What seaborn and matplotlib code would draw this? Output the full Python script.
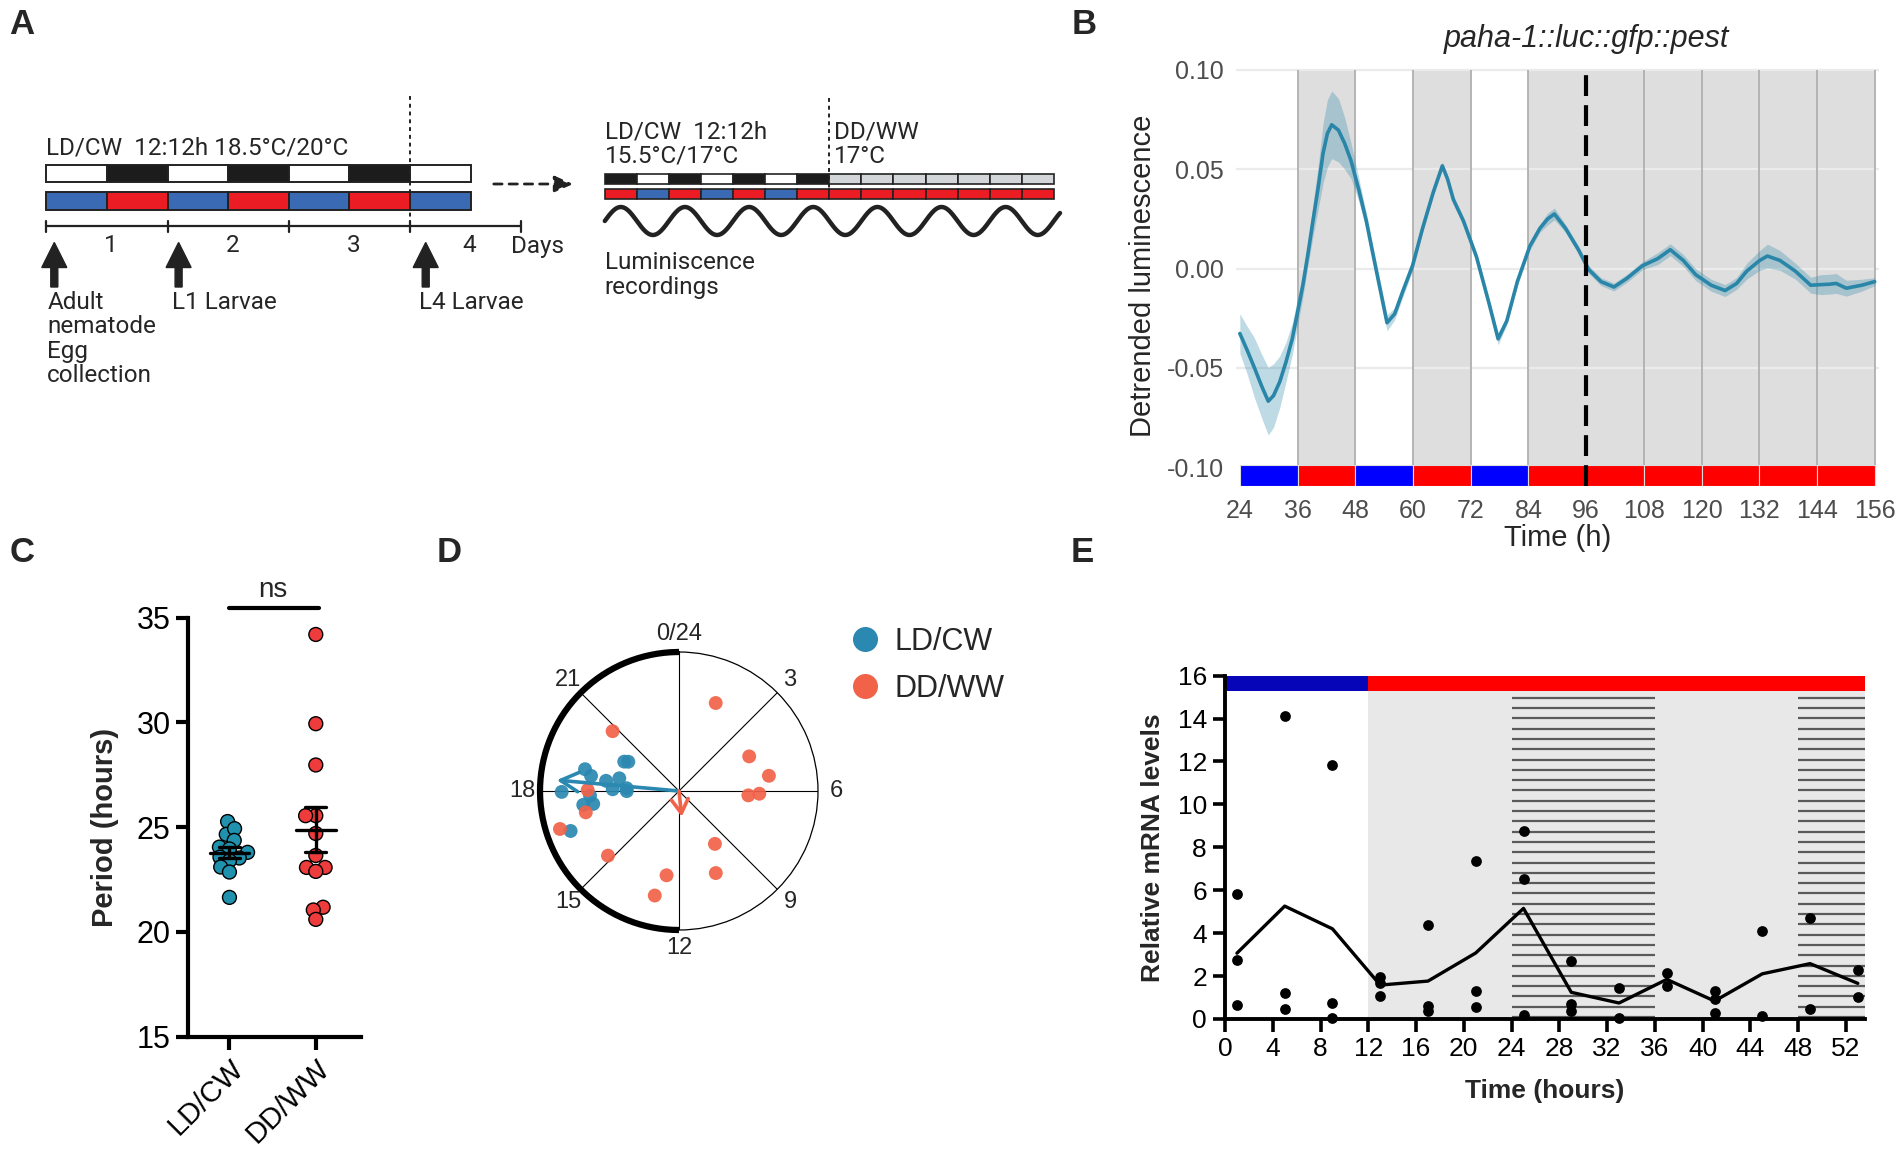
import numpy as np
import pandas as pd
import matplotlib
matplotlib.use("Agg")
import matplotlib.pyplot as plt
import seaborn as sns
from matplotlib.patches import Rectangle
from matplotlib.lines import Line2D

# ------------------------------------------------------------------ data
# Panel A (schematic), one entry per 12 h block
a_train_light = ['L', 'D', 'L', 'D', 'L', 'D', 'L']
a_train_temp = ['C', 'W', 'C', 'W', 'C', 'W', 'C']
a_days = ['1', '2', '3', '4']
a_events = ['Adult\nnematode\nEgg\ncollection', 'L1 Larvae', 'L4 Larvae']
a_rec_light = ['D', 'L', 'D', 'L', 'D', 'L', 'D', 'DD', 'DD', 'DD', 'DD', 'DD', 'DD', 'DD']
a_rec_temp = ['W', 'C', 'W', 'C', 'W', 'C', 'W', 'W', 'W', 'W', 'W', 'W', 'W', 'W']

# Panel B
b_time = [24, 25.5, 27, 28.5, 29.9, 31, 32.3, 33.6, 34.9, 36, 37.1, 38.2, 39.2, 40.3, 41.3, 42.2,
          43.1, 44.5, 45.8, 47.1, 48.7, 50.3, 51.7, 53.0, 54.6, 56.2, 57.8, 59.9, 62.0, 64.2, 66.1,
          67.2, 68.4, 70.5, 73.2, 75.8, 77.7, 79.5, 81.7, 84.3, 86.4, 88.0, 89.4, 91.7, 94.4, 96.5,
          99.1, 101.8, 104.5, 107.7, 110.9, 113.5, 116.2, 118.8, 122.0, 124.9, 127.3, 129.4, 132.1,
          133.7, 136.3, 139.5, 142.7, 144.8, 146.5, 148.0, 150.1, 153.3, 156]
b_mean = [-0.0327, -0.041, -0.0498, -0.059, -0.0668, -0.064, -0.057, -0.047, -0.0354, -0.022,
          -0.0084, 0.008, 0.024, 0.041, 0.058, 0.068, 0.0724, 0.0697, 0.063, 0.0544, 0.040, 0.0239,
          0.007, -0.0084, -0.0273, -0.0228, -0.012, 0.0014, 0.0203, 0.0383, 0.0517, 0.045, 0.0347,
          0.0239, 0.0059, -0.0174, -0.0354, -0.0264, -0.0066, 0.0113, 0.0203, 0.025, 0.0275, 0.0203,
          0.0095, -0.0004, -0.0066, -0.0093, -0.0049, 0.0014, 0.005, 0.0095, 0.0041, -0.0031,
          -0.0084, -0.0111, -0.0075, -0.0013, 0.0041, 0.0063, 0.0041, -0.0013, -0.0084, -0.0081,
          -0.0079, -0.0075, -0.0099, -0.0084, -0.0066]
b_sem = [0.010, 0.012, 0.015, 0.016, 0.017, 0.016, 0.013, 0.010, 0.008, 0.007, 0.006, 0.006,
         0.008, 0.011, 0.015, 0.017, 0.017, 0.016, 0.013, 0.009, 0.006, 0.004, 0.004, 0.004,
         0.004, 0.003, 0.003, 0.0025, 0.002, 0.002, 0.002, 0.002, 0.002, 0.002, 0.002, 0.002,
         0.003, 0.002, 0.002, 0.002, 0.002, 0.003, 0.003, 0.002, 0.002, 0.002, 0.002, 0.002,
         0.002, 0.002, 0.003, 0.003, 0.003, 0.003, 0.003, 0.003, 0.003, 0.004, 0.005, 0.006,
         0.005, 0.004, 0.004, 0.005, 0.005, 0.005, 0.004, 0.003, 0.002]
b_block_start = [24, 36, 48, 60, 72, 84, 96, 108, 120, 132, 144]
b_block_phase = ['L', 'D', 'L', 'D', 'L', 'D', 'D', 'D', 'D', 'D', 'D']
b_release = 96
b_xticks = [24, 36, 48, 60, 72, 84, 96, 108, 120, 132, 144, 156]
b_yticks = [-0.10, -0.05, 0.00, 0.05, 0.10]
b_ytick_labels = ['-0.10', '-0.05', '0.00', '0.05', '0.10']

# Panel C
c_groups = ['LD/CW', 'DD/WW']
c_ld = [25.27, 24.66, 24.93, 24.37, 24.05, 23.96, 23.8, 23.57, 23.53, 23.4, 23.1, 22.86, 21.65]
c_dd = [34.2, 29.94, 27.97, 25.55, 25.55, 24.7, 23.65, 23.08, 23.08, 22.89, 21.18, 21.05, 20.6]
c_yticks = [15, 20, 25, 30, 35]

# Panel D (phase in hours, radius as fraction)
d_ld_phase = [19.88, 20.0, 18.87, 18.65, 18.53, 18.8, 18.1, 18.2, 17.99, 17.97, 17.8, 17.45, 17.43, 16.65]
d_ld_r = [0.447, 0.421, 0.694, 0.642, 0.530, 0.439, 0.477, 0.377, 0.376, 0.844, 0.641, 0.696, 0.624, 0.831]
d_dd_phase = [1.51, 20.8, 4.25, 5.36, 6.13, 6.24, 18.04, 17.14, 16.82, 15.18, 9.72, 10.39, 12.56, 12.87]
d_dd_r = [0.686, 0.643, 0.563, 0.656, 0.578, 0.5, 0.657, 0.688, 0.899, 0.691, 0.46, 0.647, 0.613, 0.772]
d_mean_phase = [18.34, 11.6]
d_mean_len = [0.883, 0.186]
d_hour_ticks = [0, 3, 6, 9, 12, 15, 18, 21]
d_hour_labels = ['0/24', '3', '6', '9', '12', '15', '18', '21']

# Panel E
e_time = [1, 1, 1, 5, 5, 5, 9, 9, 9, 13, 13, 13, 17, 17, 17, 21, 21, 21, 25, 25, 25, 29, 29, 29,
          33, 33, 37, 37, 41, 41, 41, 45, 45, 49, 49, 53, 53]
e_level = [5.84, 2.73, 0.63, 14.1, 1.2, 0.48, 11.82, 0.74, 0.04, 1.98, 1.06, 1.7, 4.36, 0.59, 0.35,
           7.37, 1.3, 0.56, 8.76, 6.53, 0.17, 2.69, 0.69, 0.35, 1.43, 0.06, 2.13, 1.56, 1.3, 0.95,
           0.26, 4.08, 0.13, 4.71, 0.45, 2.3, 1.02]
e_light_end = 12
e_hatch_blocks = [(24, 36), (48, 53.6)]
e_xticks = [0, 4, 8, 12, 16, 20, 24, 28, 32, 36, 40, 44, 48, 52]
e_yticks = [0, 2, 4, 6, 8, 10, 12, 14, 16]

# ------------------------------------------------------------------ style
sns.set_theme(style="white")
ROBOTO = ['Roboto', 'DejaVu Sans']
ARIAL = ['Liberation Sans', 'DejaVu Sans']
NARROW = ['Liberation Sans Narrow', 'Liberation Sans', 'DejaVu Sans']
plt.rcParams['font.family'] = ARIAL

W, H = 1902, 1156
fig = plt.figure(figsize=(W / 100, H / 100), dpi=100)
fig.patch.set_facecolor('white')

LIGHT = {'L': 'white', 'D': '#1c1c1c', 'DD': '#d3d6d9'}
TEMP = {'C': '#3a6ab3', 'W': '#ec1c24'}

# pixel overlay for schematic + panel letters
ov = fig.add_axes([0, 0, 1, 1], zorder=-5)
ov.set_xlim(0, W)
ov.set_ylim(H, 0)
ov.axis('off')

for lab, (x, y) in zip('ABCDE', [(22, 25), (1084, 25), (22, 552), (449, 552), (1082, 552)]):
    ov.text(x, y, lab, fontsize=25, fontweight='bold', ha='center', va='center', family=ARIAL)

# ---------------- Panel A
x0a, x1a = 46.4, 470.7
segw = (x1a - x0a) / len(a_train_light)
ov.text(x0a, 148, 'LD/CW  12:12h 18.5°C/20°C', fontsize=17.5, family=ROBOTO, ha='left', va='center')
for i, (l, t) in enumerate(zip(a_train_light, a_train_temp)):
    xs = x0a + i * segw
    ov.add_patch(Rectangle((xs, 164.5), segw, 17, fc=LIGHT[l], ec='#222222', lw=1.4))
    ov.add_patch(Rectangle((xs, 192), segw, 17.5, fc=TEMP[t], ec='#222222', lw=1.4))
tl_end = 520.7
ov.plot([x0a, tl_end], [226, 226], color='#222222', lw=1.6)
day_ticks = [x0a + k * 2 * segw for k in range(len(a_days))] + [tl_end]
for xt in day_ticks:
    ov.plot([xt, xt], [220.5, 231.7], color='#222222', lw=1.6)
for k, d in enumerate(a_days):
    ov.text((day_ticks[k] + day_ticks[k + 1]) / 2 + 4, 246, d, fontsize=17.5, family=ROBOTO,
            ha='center', va='center')
ov.text(511.4, 246, 'Days', fontsize=17.5, family=ROBOTO, ha='left', va='center')
ov.plot([x0a + 6 * segw, x0a + 6 * segw], [96, 226], color='#222222', lw=1.4, ls=(0, (2, 2)))
event_x = [54.3, 178.6, 425.7]
for ex, ev in zip(event_x, a_events):
    ov.arrow(ex, 287, 0, -44.5, width=7, head_width=25, head_length=25, length_includes_head=True,
             color='#222222')
    ov.text(ex - 7, 291, ev, fontsize=17.5, family=ROBOTO, ha='left', va='top', linespacing=1.08)
ov.annotate('', xy=(576, 184), xytext=(491, 184),
            arrowprops=dict(arrowstyle='-|>,head_length=0.8,head_width=0.35', color='#222222',
                            lw=2, linestyle=(0, (3, 2.5)), mutation_scale=14))

# recordings schematic
x0r, x1r = 604.8, 1053.8
segr = (x1r - x0r) / len(a_rec_light)
ov.text(x0r, 144, 'LD/CW  12:12h\n15.5°C/17°C', fontsize=17.5, family=ROBOTO, ha='left',
        va='center', linespacing=1.1)
ov.text(834, 144, 'DD/WW\n17°C', fontsize=17.5, family=ROBOTO, ha='left', va='center',
        linespacing=1.1)
for i, (l, t) in enumerate(zip(a_rec_light, a_rec_temp)):
    xs = x0r + i * segr
    ov.add_patch(Rectangle((xs, 174), segr, 10, fc=LIGHT[l], ec='#222222', lw=1.2))
    ov.add_patch(Rectangle((xs, 189), segr, 10.3, fc=TEMP[t], ec='#222222', lw=1.2))
ov.plot([x0r + 7 * segr, x0r + 7 * segr], [98, 190], color='#222222', lw=1.4, ls=(0, (2, 2)))
# schematic oscillation: peaks in the middle of dark blocks, one cycle per 2 blocks
wx = np.linspace(x0r, 1060, 600)
wy = 221 - 14 * np.cos(2 * np.pi * (wx - (x0r + segr / 2)) / (2 * segr))
ov.plot(wx, wy, color='#222222', lw=3.2, solid_capstyle='round')
ov.text(x0r, 275, 'Luminiscence\nrecordings', fontsize=17.5, family=ROBOTO, ha='left',
        va='center', linespacing=1.1)

# ---------------- Panel B
BCOL = '#2a86a8'
axb = fig.add_axes([1236 / W, 1 - 486 / H, (1879 - 1236) / W, (486 - 65) / H])
axb.set_xlim(23.2, 156.9)
axb.set_ylim(-0.1095, 0.1025)
for s in axb.spines.values():
    s.set_visible(False)
bar_top = -0.099
for st, ph in zip(b_block_start, b_block_phase):
    if ph == 'D':
        axb.add_patch(Rectangle((st, bar_top), 12, 0.10 - bar_top, fc='#dedede', lw=0, zorder=0))
    axb.add_patch(Rectangle((st, -0.1095), 12, 0.1095 + bar_top, fc='#0000ff' if ph == 'L' else '#ff0000',
                            ec='#dcdcdc', lw=0.8, zorder=2))
axb.hlines(b_yticks[1:], 23.2, 156.9, color='#ebebeb', lw=1.6, zorder=0.5)
edges = sorted(set([st for st, ph in zip(b_block_start, b_block_phase) if ph == 'D'] +
                   [st + 12 for st, ph in zip(b_block_start, b_block_phase) if ph == 'D']))
axb.vlines([e for e in edges if e != b_release], bar_top, 0.10, color='#b0b0b0', lw=1.3, zorder=1)
lo = np.array(b_mean) - np.array(b_sem)
hi = np.array(b_mean) + np.array(b_sem)
axb.fill_between(b_time, lo, hi, color=BCOL, alpha=0.3, lw=0, zorder=3)
sns.lineplot(x=b_time, y=b_mean, ax=axb, color=BCOL, lw=2.6, zorder=4)
axb.vlines(b_release, -0.1095, 0.10, color='black', lw=3, linestyles=[(0, (5, 2.2))], zorder=5)
axb.set_xticks(b_xticks)
axb.set_xticklabels([str(t) for t in b_xticks])
axb.set_yticks(b_yticks)
axb.set_yticklabels(b_ytick_labels)
axb.tick_params(length=0, labelsize=18, labelcolor='#4d4d4d')
axb.tick_params(axis='x', pad=9)
axb.tick_params(axis='y', pad=9)
for t in axb.get_xticklabels() + axb.get_yticklabels():
    t.set_family(NARROW)
axb.set_xlabel('Time (h)', fontsize=21)
axb.set_ylabel('Detrended luminescence', fontsize=21)
axb.yaxis.set_label_coords(-0.123, 0.5)
axb.xaxis.set_label_coords(0.5, -0.09)
axb.grid(False)
fig.text(1586 / W, 1 - 39 / H, 'paha-1::luc::gfp::pest', fontsize=22, style='italic',
         ha='center', va='center', family=ARIAL)

# ---------------- Panel C
CBLUE, CRED = '#2092ae', '#ee3b3b'
axc = fig.add_axes([188 / W, 1 - 1036.7 / H, (360.7 - 188) / W, (1036.7 - 617.7) / H])
dfc = pd.DataFrame({'group': [c_groups[0]] * len(c_ld) + [c_groups[1]] * len(c_dd),
                    'period': c_ld + c_dd})
axc.set_xlim(-0.48, 1.52)
axc.set_ylim(15, 35)
# compact swarm layout (computed with a smaller marker), then drawn with the real marker size
sns.swarmplot(data=dfc, x='group', y='period', hue='group', order=c_groups,
              palette={c_groups[0]: CBLUE, c_groups[1]: CRED}, size=6.0, linewidth=1,
              edgecolor='black', ax=axc, legend=False, zorder=3, clip_on=False)
axc.set_xlim(-0.48, 1.52)
axc.set_ylim(15, 35)
fig.canvas.draw()
for coll in list(axc.collections):
    if 'draw' in coll.__dict__:
        del coll.draw
    coll.set_sizes([100])
for i, g in enumerate(c_groups):
    vals = dfc.loc[dfc.group == g, 'period'].values
    m = vals.mean()
    se = vals.std(ddof=1) / np.sqrt(len(vals))
    axc.plot([i - 0.23, i + 0.23], [m, m], color='black', lw=2.4, zorder=5)
    axc.plot([i, i], [m - se, m + se], color='black', lw=2.4, zorder=5)
    for yy in (m - se, m + se):
        axc.plot([i - 0.12, i + 0.12], [yy, yy], color='black', lw=2.4, zorder=5)
axc.set_yticks(c_yticks)
sns.despine(ax=axc)
for s in ['left', 'bottom']:
    axc.spines[s].set_linewidth(3)
    axc.spines[s].set_color('black')
axc.tick_params(axis='both', direction='out', length=9, width=3, color='black', labelsize=22,
                labelcolor='black', bottom=True, left=True)
axc.set_xticks([0, 1])
axc.set_xticklabels(c_groups, rotation=45, ha='right', rotation_mode='anchor', fontsize=21)
axc.set_xlabel('')
axc.set_ylabel('Period (hours)', fontsize=21, fontweight='bold')
axc.yaxis.set_label_coords(-0.40, 0.5)
axc.plot([0, 1.04], [35.48, 35.48], color='black', lw=3, clip_on=False)
axc.text(0.5, 36.3, 'ns', fontsize=20, ha='center', va='center', clip_on=False)

# ---------------- Panel D
DBLUE, DRED = '#2b88b0', '#f26249'
R = 139
axd = fig.add_axes([(679 - R) / W, 1 - (791 + R) / H, 2 * R / W, 2 * R / H], projection='polar')
axd.set_theta_zero_location('N')
axd.set_theta_direction(-1)
axd.set_ylim(0, 1)
axd.grid(False)
axd.set_xticks([])
axd.set_yticks([])
axd.spines['polar'].set_linewidth(0.9)
axd.spines['polar'].set_color('black')
for h in d_hour_ticks:
    th = h / 24 * 2 * np.pi
    axd.plot([th, th], [0, 1], color='black', lw=0.8, zorder=1)
arc = np.linspace(np.pi, 2 * np.pi, 200)
axd.plot(arc, np.ones_like(arc), color='black', lw=4.5, clip_on=False, zorder=2,
         solid_capstyle='butt')
for h, lab in zip(d_hour_ticks, d_hour_labels):
    axd.text(h / 24 * 2 * np.pi, 1.13, lab, ha='center', va='center', fontsize=17, family=NARROW)
dfd = pd.DataFrame({
    'theta': [p / 24 * 2 * np.pi for p in d_ld_phase + d_dd_phase],
    'r': d_ld_r + d_dd_r,
    'group': ['LD/CW'] * len(d_ld_phase) + ['DD/WW'] * len(d_dd_phase)})
sns.scatterplot(data=dfd, x='theta', y='r', hue='group', palette={'LD/CW': DBLUE, 'DD/WW': DRED},
                s=100, linewidth=0, alpha=0.92, ax=axd, legend=False, zorder=4)
axd.set_xlabel('')
axd.set_ylabel('')
for ph, ln, col, hl, hw in zip(d_mean_phase, d_mean_len, [DBLUE, DRED], [0.65, 0.5], [0.35, 0.3]):
    axd.annotate('', xy=(ph / 24 * 2 * np.pi, ln), xytext=(0, 0),
                 arrowprops=dict(arrowstyle=f'->,head_length={hl},head_width={hw}', color=col,
                                 lw=2.6, mutation_scale=20, shrinkA=0, shrinkB=0), zorder=5)
handles = [Line2D([], [], marker='o', ls='', ms=17, color=c) for c in (DBLUE, DRED)]
fig.legend(handles, ['LD/CW', 'DD/WW'], loc='upper left', bbox_to_anchor=(850 / W, 1 - 627 / H),
           frameon=False, borderpad=0, borderaxespad=0, handlelength=1.0, handletextpad=0.45,
           labelspacing=0.55, prop={'family': NARROW, 'size': 22})

# ---------------- Panel E
axe = fig.add_axes([1225 / W, 1 - 1019 / H, (1865 - 1225) / W, (1019 - 675.6) / H])
xmax_e = 53.6
axe.set_xlim(0, xmax_e)
axe.set_ylim(0, 16)
axe.add_patch(Rectangle((e_light_end, 0), xmax_e - e_light_end, 15.3, fc='#e8e8e8', lw=0, zorder=0))
hatch_y = np.arange(14.97, 0, -0.48)  # horizontal hatch pattern
for a, b in e_hatch_blocks:
    axe.hlines(hatch_y, a, b, color='#5a5a5a', lw=1.6, zorder=1)
axe.add_patch(Rectangle((0, 15.3), e_light_end, 0.7, fc='#0606b8', lw=0, zorder=2, clip_on=False))
axe.add_patch(Rectangle((e_light_end, 15.3), xmax_e - e_light_end, 0.7, fc='#ff0000', lw=0, zorder=2,
                        clip_on=False))
sns.lineplot(x=e_time, y=e_level, estimator='mean', errorbar=None, color='black', lw=2.4, ax=axe,
             zorder=4)
sns.scatterplot(x=e_time, y=e_level, color='black', s=60, linewidth=0, ax=axe, zorder=5, clip_on=False)
sns.despine(ax=axe)
for s in ['left', 'bottom']:
    axe.spines[s].set_linewidth(2.8)
    axe.spines[s].set_color('black')
    axe.spines[s].set_zorder(6)
axe.set_xticks(e_xticks)
axe.set_yticks(e_yticks)
axe.tick_params(axis='both', direction='out', length=9, width=2.6, color='black', labelsize=19,
                labelcolor='black', bottom=True, left=True, pad=4)
for t in axe.get_xticklabels() + axe.get_yticklabels():
    t.set_family(NARROW)
axe.set_xlabel('Time (hours)', fontsize=19, fontweight='bold')
axe.set_ylabel('Relative mRNA levels', fontsize=19, fontweight='bold')
axe.yaxis.set_label_coords(-0.094, 0.5)
axe.xaxis.set_label_coords(0.5, -0.175)
axe.grid(False)

fig.savefig('out.png', dpi=100, facecolor='white')
